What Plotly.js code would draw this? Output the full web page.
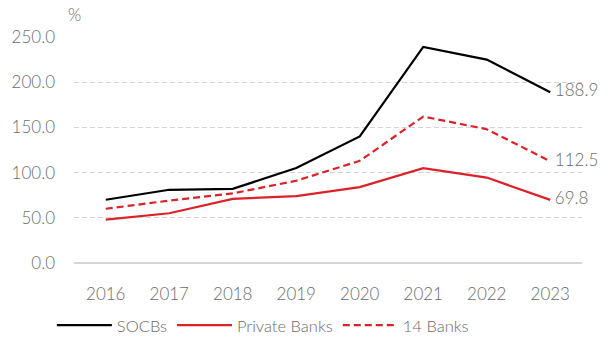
<!DOCTYPE html>
<html><head><meta charset="utf-8">
<script src="https://cdn.plot.ly/plotly-3.0.1.min.js"></script>
<style>html,body{margin:0;padding:0;background:#fff}#c{width:610px;height:339px}</style>
</head><body><div id="c"></div>
<script>
const years = ["2016","2017","2018","2019","2020","2021","2022","2023"];
const socbs = [70, 81, 82, 105, 140, 239, 225, 188.9];
const privateBanks = [48, 55, 71, 74, 84, 105, 94.5, 69.8];
const banks14 = [60, 69, 77, 91, 113, 162, 148, 112.5];
const yTicks = [0, 50, 100, 150, 200, 250];

const FONT = "Lato, 'Open Sans', sans-serif";
const GREY = "#6b6b6b";
const RED = "#dc2229";
const tf = {family: FONT, size: 17, color: GREY, weight: 300};

function endText(s) { return s.map((v, i) => i === s.length - 1 ? " " + v.toFixed(1) : ""); }

const traces = [
  {x: years, y: socbs, name: "SOCBs", mode: "lines+text", text: endText(socbs), textposition: "middle right", textfont: tf, cliponaxis: false, line: {color: "#000000", width: 2.2}},
  {x: years, y: privateBanks, name: "Private Banks", mode: "lines+text", text: endText(privateBanks), textposition: "middle right", textfont: tf, cliponaxis: false, line: {color: RED, width: 2.2}},
  {x: years, y: banks14, name: "14 Banks", mode: "lines+text", text: endText(banks14), textposition: "middle right", textfont: tf, cliponaxis: false, line: {color: RED, width: 2.2, dash: "7px,4px"}}
];

const layout = {
  width: 610, height: 339,
  margin: {l: 74, r: 28, t: 37, b: 76},
  paper_bgcolor: "#fff", plot_bgcolor: "#fff",
  font: tf,
  showlegend: true,
  legend: {orientation: "h", xref: "container", yref: "container", x: 0.085, xanchor: "left", y: 0.04, yanchor: "middle", font: {family: FONT, size: 16.5, color: GREY, weight: 300}, itemwidth: 55, tracegroupgap: 0},
  xaxis: {type: "category", range: [-0.5, 7.5], showgrid: false, zeroline: false, showline: false, ticks: "", ticklabelstandoff: 19, tickfont: tf, fixedrange: true},
  yaxis: {range: [0, 250], tickvals: yTicks, tickformat: ".1f", showgrid: true, gridcolor: "#d4d4d4", griddash: "5px,3px", gridwidth: 1.3, zeroline: true, zerolinecolor: "#d4d4d4", zerolinewidth: 2, showline: false, ticks: "", ticklabelstandoff: 18, tickfont: tf, fixedrange: true},
  annotations: [
    {text: "%", xref: "paper", yref: "paper", x: 0.0, y: 1.1, xanchor: "center", yanchor: "middle", showarrow: false, font: tf}
  ]
};

Plotly.newPlot("c", traces, layout, {displayModeBar: false, staticPlot: true});
</script></body></html>
